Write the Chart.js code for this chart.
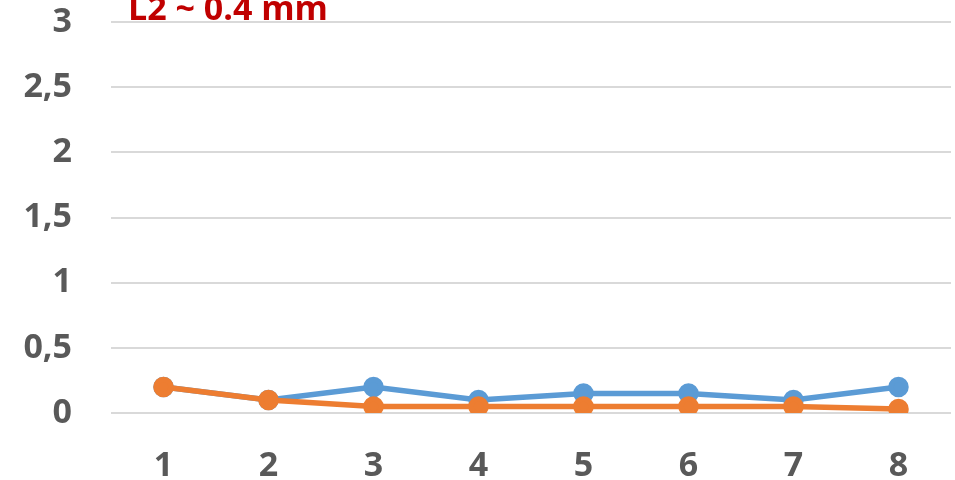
<!DOCTYPE html>
<html lang="en">
<head>
  <meta charset="UTF-8">
  <title>L2 ~ 0.4 mm</title>
  <script src="https://cdn.jsdelivr.net/npm/chart.js"></script>
  <style>
    html, body {
      margin: 0;
      padding: 0;
      background: #ffffff;
      overflow: hidden;
    }

    .chart-container {
      width: 955px;
      height: 480px;
      position: relative;
    }

    canvas {
      display: block;
    }
  </style>
</head>
<body>

  <div class="chart-container">
    <canvas id="lineChart"></canvas>
  </div>

  <script>
    const labels = ["1", "2", "3", "4", "5", "6", "7", "8"];
    const blue = [0.2, 0.1, 0.2, 0.1, 0.15, 0.15, 0.1, 0.2];
    const orange = [0.2, 0.1, 0.05, 0.05, 0.05, 0.05, 0.05, 0.03];
    const titleText = "L2 ~ 0.4 mm";

    const fontFamily = "'Open Sans', 'Liberation Sans', sans-serif";

    // title sits inside the plot, partly cut by the top edge
    const titlePlugin = {
      id: 'cornerTitle',
      afterDraw(chart) {
        const ctx = chart.ctx;
        ctx.save();
        ctx.font = "bold 34px " + fontFamily;
        ctx.fillStyle = '#c00000';
        ctx.textBaseline = 'alphabetic';
        ctx.fillText(titleText, chart.chartArea.left + 17, 20);
        ctx.restore();
      }
    };

    // fixed plot box, no extra room for label overflow
    function noOverflow(scale) {
      scale.paddingTop = 0;
      scale.paddingBottom = 0;
      scale.paddingLeft = 0;
      scale.paddingRight = 0;
    }

    new Chart(document.getElementById('lineChart'), {
      type: 'line',
      data: {
        labels: labels,
        datasets: [{
          label: 'Series 2',
          data: orange,
          borderColor: '#ed7d31',
          backgroundColor: '#ed7d31',
          borderWidth: 5.5,
          pointRadius: 7.5,
          pointHoverRadius: 7.5,
          tension: 0
        }, {
          label: 'Series 1',
          data: blue,
          borderColor: '#5b9bd5',
          backgroundColor: '#5b9bd5',
          borderWidth: 5.5,
          pointRadius: 7.5,
          pointHoverRadius: 7.5,
          tension: 0
        }]
      },
      options: {
        responsive: true,
        maintainAspectRatio: false,
        animation: false,
        layout: {
          autoPadding: false,
          padding: { top: 22, right: 4, left: 0, bottom: 0 }
        },
        plugins: {
          legend: { display: false },
          title: { display: false },
          tooltip: { enabled: false }
        },
        scales: {
          x: {
            offset: true,
            grid: { display: false, drawTicks: false },
            border: { display: false },
            afterFit: (scale) => { scale.height = 67; noOverflow(scale); },
            ticks: {
              color: '#595959',
              padding: 33,
              font: { family: fontFamily, size: 34, weight: 'bold' }
            }
          },
          y: {
            min: 0,
            max: 3,
            grid: { color: '#d9d9d9', lineWidth: 2, drawTicks: false },
            border: { display: false },
            afterFit: (scale) => { scale.width = 111; noOverflow(scale); },
            ticks: {
              stepSize: 0.5,
              color: '#595959',
              padding: 39,
              font: { family: fontFamily, size: 34, weight: 'bold' },
              callback: (v) => String(v).replace('.', ',')
            }
          }
        }
      },
      plugins: [titlePlugin]
    });
  </script>

</body>
</html>
